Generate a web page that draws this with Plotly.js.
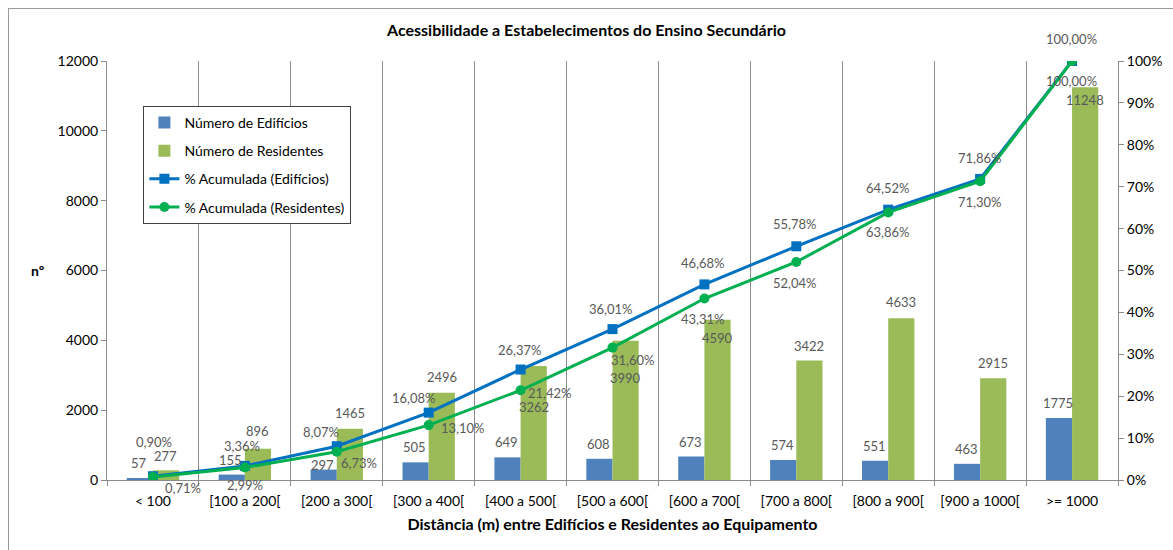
<!DOCTYPE html>
<html>
<head>
<meta charset="utf-8">
<script src="https://cdn.plot.ly/plotly-3.0.1.min.js"></script>
<style>
  html, body { margin: 0; padding: 0; background: #fff; }
  #wrap { position: relative; width: 1173px; height: 550px; }
  #chart { width: 1173px; height: 550px; }
  #frame { position: absolute; left: 8px; top: 8px; width: 1200px; height: 600px;
           border-left: 1px solid #9a9a9a; border-top: 1px solid #9a9a9a; pointer-events: none; }
</style>
</head>
<body>
<div id="wrap"><div id="chart"></div><div id="frame"></div></div>
<script>
// ---- data ----
const categories = ["< 100", "[100 a 200[", "[200 a 300[", "[300 a 400[", "[400 a 500[",
  "[500 a 600[", "[600 a 700[", "[700 a 800[", "[800 a 900[", "[900 a 1000[", ">= 1000"];
const edificios = [57, 155, 297, 505, 649, 608, 673, 574, 551, 463, 1775];
const residentes = [277, 896, 1465, 2496, 3262, 3990, 4590, 3422, 4633, 2915, 11248];
const pctEdificios = [0.90, 3.36, 8.07, 16.08, 26.37, 36.01, 46.68, 55.78, 64.52, 71.86, 100.00];
const pctResidentes = [0.71, 2.99, 6.73, 13.10, 21.42, 31.60, 43.31, 52.04, 63.86, 71.30, 100.00];

// ---- label placement (pixels) ----
const barLabelShiftE = [15, 15, 5, 15, 15, 15, 15, 15, 15, 15, 15];
const barLabelShiftR = [14, 18, 16, 16, -41, -37, -18, 15, 16, 15, -13];
const pctShiftE = [[1, 34], [-3, 20], [-16, 14], [-15, 15], [-1, 20], [-2, 20], [-1, 21], [-1, 22], [0, 22], [0, 21], [-1, 22]];
const pctShiftR = [[30, -11], [0, -18], [22, -11], [34, -3], [29, -3], [20, -12], [-1, -20], [-1, -21], [0, -20], [0, -21], [-1, -20]];

const FONT = "Lato, 'Open Sans', sans-serif";
const BLUE_BAR = "#4F81BD", GREEN_BAR = "#9BBB59", BLUE_LINE = "#0070C0", GREEN_LINE = "#00B050";
const LABEL = "#595959";
const fmtPct = v => v.toFixed(2).replace('.', ',') + '%';

const traces = [
  { type: 'bar', name: 'Número de Edifícios', x: categories, y: edificios,
    marker: { color: BLUE_BAR }, legendgroup: 'a', hoverinfo: 'y' },
  { type: 'bar', name: 'Número de Residentes', x: categories, y: residentes,
    marker: { color: GREEN_BAR }, legendgroup: 'b', hoverinfo: 'y' },
  { type: 'scatter', mode: 'lines+markers', name: '% Acumulada (Edifícios)', x: categories,
    y: pctEdificios.map(v => v / 100), yaxis: 'y2', legendgroup: 'c',
    line: { color: BLUE_LINE, width: 3 }, marker: { symbol: 'square', size: 10, color: BLUE_LINE } },
  { type: 'scatter', mode: 'lines+markers', name: '% Acumulada (Residentes)', x: categories,
    y: pctResidentes.map(v => v / 100), yaxis: 'y2', legendgroup: 'd',
    line: { color: GREEN_LINE, width: 3 }, marker: { symbol: 'circle', size: 10, color: GREEN_LINE } }
];

const annotations = [];
const lblFont = { family: FONT, size: 13, color: LABEL };
categories.forEach((c, i) => {
  annotations.push({ x: i, y: edificios[i], xref: 'x', yref: 'y', text: String(edificios[i]),
    showarrow: false, xshift: -14, yshift: barLabelShiftE[i], yanchor: 'middle', font: lblFont });
  annotations.push({ x: i, y: residentes[i], xref: 'x', yref: 'y', text: String(residentes[i]),
    showarrow: false, xshift: 13, yshift: barLabelShiftR[i], yanchor: 'middle', font: lblFont });
  annotations.push({ x: i, y: pctEdificios[i] / 100, xref: 'x', yref: 'y2', text: fmtPct(pctEdificios[i]),
    showarrow: false, xshift: pctShiftE[i][0], yshift: pctShiftE[i][1], yanchor: 'middle', font: lblFont });
  annotations.push({ x: i, y: pctResidentes[i] / 100, xref: 'x', yref: 'y2', text: fmtPct(pctResidentes[i]),
    showarrow: false, xshift: pctShiftR[i][0], yshift: pctShiftR[i][1], yanchor: 'middle', font: lblFont });
});
annotations.push({ xref: 'paper', yref: 'paper', x: -0.068, y: 0.5, xanchor: 'center', yanchor: 'middle',
  text: '<b>nº</b>', showarrow: false, font: { family: FONT, size: 14, color: '#000' } });

const layout = {
  width: 1173, height: 550,
  margin: { l: 107, r: 55, t: 61, b: 70 },
  paper_bgcolor: 'rgba(0,0,0,0)', plot_bgcolor: '#fff',
  font: { family: FONT, size: 14, color: '#000' },
  title: { text: '<b>Acessibilidade a Estabelecimentos do Ensino Secundário</b>',
    x: 0.5, xanchor: 'center', y: 0.945, yanchor: 'middle',
    font: { family: FONT, size: 16, color: '#000' } },
  barmode: 'group', bargap: 0.43, bargroupgap: 0,
  showlegend: true,
  legend: { x: 0.036, y: 0.893, xanchor: 'left', yanchor: 'top', bgcolor: '#fff',
    bordercolor: '#404040', borderwidth: 1, tracegroupgap: 7,
    font: { family: FONT, size: 14, color: '#000' } },
  xaxis: { type: 'category', tickson: 'boundaries', showgrid: true, gridcolor: '#8c8c8c', gridwidth: 1,
    ticks: 'outside', ticklen: 5, tickcolor: '#8c8c8c', showline: true, linecolor: '#8c8c8c',
    ticklabelstandoff: 8,
    tickfont: { family: FONT, size: 14, color: '#000' }, range: [-0.5, 10.5],
    title: { text: '<b>Distância (m) entre Edifícios e Residentes ao Equipamento</b>', standoff: 11,
      font: { family: FONT, size: 16, color: '#000' } } },
  yaxis: { range: [0, 12000], dtick: 2000, tickformat: 'd', showgrid: false, zeroline: false, showline: true,
    linecolor: '#8c8c8c', ticks: 'outside', ticklen: 5, tickcolor: '#8c8c8c',
    tickfont: { family: FONT, size: 14, color: '#000' } },
  yaxis2: { overlaying: 'y', side: 'right', range: [0, 1], dtick: 0.1, tickformat: '.0%',
    showgrid: false, zeroline: false, showline: true, linecolor: '#8c8c8c', ticks: 'outside',
    ticklen: 5, tickcolor: '#8c8c8c', tickfont: { family: FONT, size: 14, color: '#000' } },
  annotations: annotations
};

Plotly.newPlot('chart', traces, layout, { displayModeBar: false, responsive: false });
</script>
</body>
</html>
